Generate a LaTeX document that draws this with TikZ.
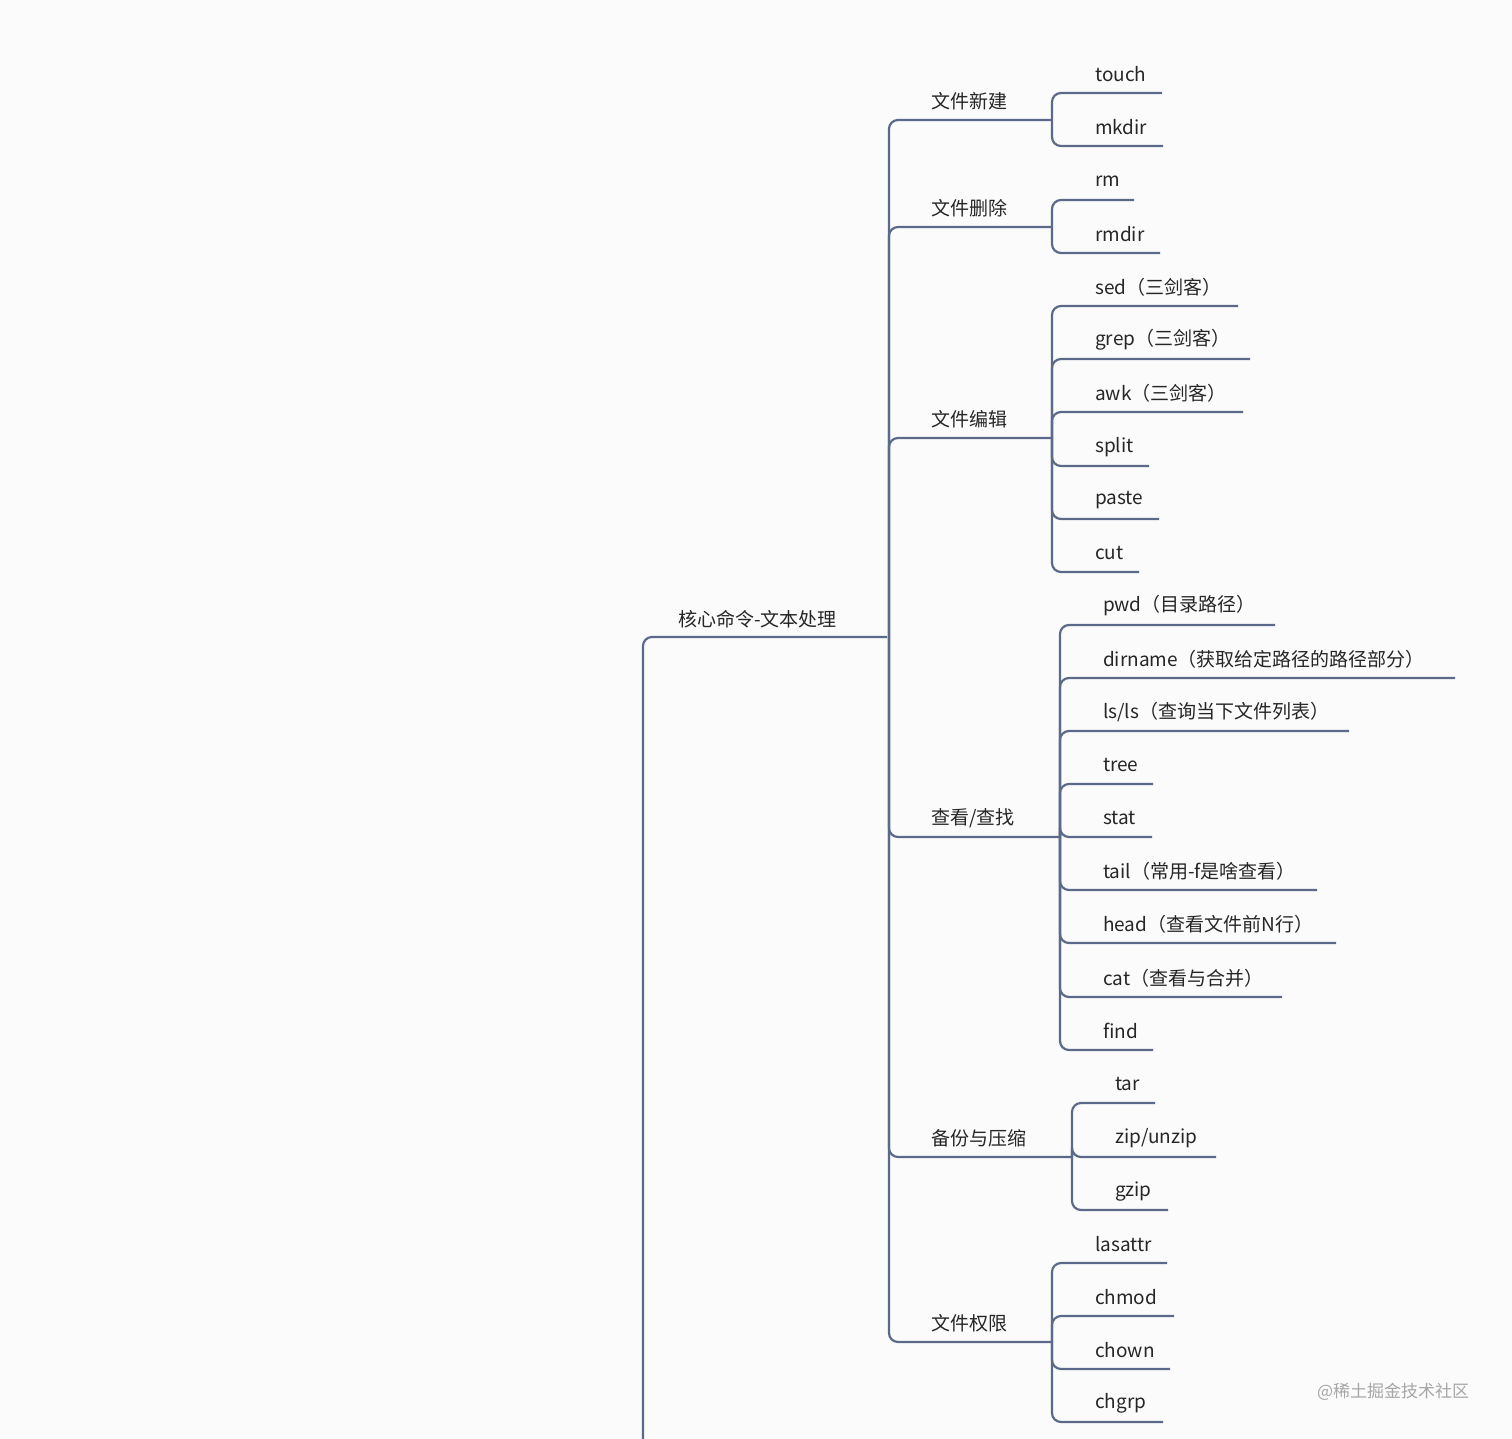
\documentclass[tikz,border=0pt]{standalone}
\usepackage{fontspec}
\setmainfont{Noto Sans CJK SC}
\definecolor{branch}{RGB}{92,106,138}
\definecolor{paper}{RGB}{251,251,252}
\tikzset{every picture/.style={line width=2.2pt}}
\tikzset{
  txt/.style={anchor=west,inner sep=0pt,font=\fontsize{19}{19}\selectfont,text=black!85},
  link/.style={draw=branch,rounded corners=9pt},
}
\begin{document}
\begin{tikzpicture}[x=1pt,y=1pt,yscale=-1,xscale=1]
\fill[paper] (0,0) rectangle (1512,1438);
\useasboundingbox (0,0) rectangle (1512,1438);

% root
\node[txt] (root) at (677,619) {核心命令-文本处理};
\coordinate (rootend) at (887,637);
\coordinate (rootdown) at (643,1440);
\draw[link] (rootdown) |- (rootend);

% main branches: name/y/text/bracket x
\coordinate (spine) at (889,637);
\foreach \nm/\y/\t/\bx in {new/120/{文件新建}/1052, del/227/{文件删除}/1052, edit/438/{文件编辑}/1052,
    view/837/{查看/查找}/1060, pack/1157/{备份与压缩}/1072, perm/1342/{文件权限}/1052}{
  \node[txt] (\nm) at (930,\y-19) {\t};
  \coordinate (\nm-b) at (\bx,\y);
  \draw[link] (spine) |- (\nm-b);
}

% leaves: group/text y/line end x/text
\foreach \g/\ty/\ex/\t in {new/74/1162/{touch}, new/127/1163/{mkdir},
    del/181/1134/{rm}, del/234/1160/{rmdir},
    edit/287/1238/{sed（三剑客）}, edit/340/1250/{grep（三剑客）}, edit/393/1243/{awk（三剑客）},
    edit/447/1149/{split}, edit/500/1159/{paste}, edit/553/1139/{cut},
    view/606/1275/{pwd（目录路径）}, view/659/1455/{dirname（获取给定路径的路径部分）},
    view/712/1349/{ls/ls（查询当下文件列表）}, view/765/1153/{tree}, view/818/1152/{stat},
    view/871/1317/{tail（常用-f是啥查看）}, view/924/1336/{head（查看文件前N行）},
    view/978/1282/{cat（查看与合并）}, view/1031/1153/{find},
    pack/1084/1155/{tar}, pack/1138/1216/{zip/unzip}, pack/1191/1168/{gzip},
    perm/1244/1167/{lasattr}, perm/1297/1174/{chmod}, perm/1350/1170/{chown}, perm/1403/1163/{chgrp}}{
  \path (\g-b) ++(42,0) coordinate (tx);
  \coordinate (ty) at (0,\ty);
  \node[txt] (leaf) at (tx |- ty) {\t};
  \coordinate (leafend) at (\ex,\ty+19);
  \draw[link] (\g-b) |- (leafend);
}

% watermark
\node[txt,text=black!35,font=\fontsize{17}{17}\selectfont] (mark) at (1316,1392) {@稀土掘金技术社区};
\end{tikzpicture}
\end{document}
